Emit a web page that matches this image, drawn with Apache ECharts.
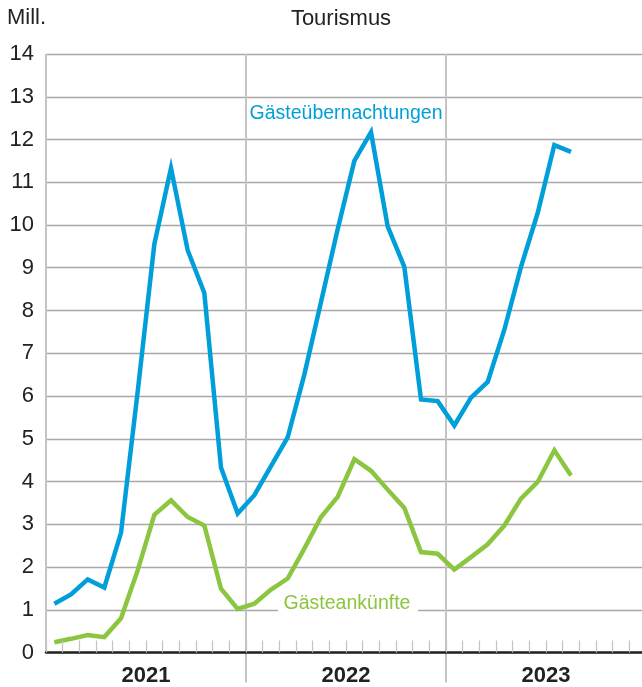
<!DOCTYPE html>
<html>
<head>
<meta charset="utf-8">
<script src="https://cdn.jsdelivr.net/npm/echarts@6/dist/echarts.min.js"></script>
<style>
html,body{margin:0;padding:0;background:#fff;overflow:hidden;width:642px;height:687px;}
#chart{width:700px;height:687px;}
</style>
</head>
<body>
<div id="chart"></div>
<script>
var months = ['2021-01','2021-02','2021-03','2021-04','2021-05','2021-06','2021-07','2021-08','2021-09','2021-10','2021-11','2021-12',
              '2022-01','2022-02','2022-03','2022-04','2022-05','2022-06','2022-07','2022-08','2022-09','2022-10','2022-11','2022-12',
              '2023-01','2023-02','2023-03','2023-04','2023-05','2023-06','2023-07','2023-08','2023-09','2023-10','2023-11','2023-12'];
var years = ['2021','2022','2023'];
var yTicks = [0,1,2,3,4,5,6,7,8,9,10,11,12,13,14];
var overnights = [1.14,1.36,1.71,1.52,2.80,6.10,9.55,11.33,9.41,8.41,4.33,3.25,
                  3.68,4.36,5.03,6.50,8.20,9.90,11.50,12.17,9.97,9.02,5.92,5.88,
                  5.31,5.96,6.33,7.55,9.02,10.28,11.87,11.71];
var arrivals = [0.24,0.32,0.41,0.36,0.80,1.92,3.22,3.56,3.17,2.97,1.49,1.02,
                1.14,1.47,1.73,2.43,3.17,3.64,4.52,4.25,3.81,3.38,2.35,2.31,
                1.94,2.23,2.53,2.97,3.60,3.99,4.73,4.14];

var FONT = '"Liberation Sans", Arial, sans-serif';
var BLUE = '#009fda';
var GREEN = '#8cc540';

var chart = echarts.init(document.getElementById('chart'), null, {renderer: 'canvas'});
chart.setOption({
  animation: false,
  backgroundColor: '#fff',
  grid: {left: 46, top: 54, width: 600, height: 598.5, containLabel: false},
  xAxis: [{
    type: 'category',
    data: months,
    boundaryGap: true,
    axisLine: {show: true, lineStyle: {color: '#222', width: 2.5}},
    axisTick: {show: true, inside: true, length: 12, interval: 0, lineStyle: {color: '#c4c4c4', width: 1.2}},
    axisLabel: {show: false},
    splitLine: {show: false},
    z: 5
  }, {
    type: 'category',
    data: years,
    position: 'bottom',
    boundaryGap: true,
    axisLine: {show: false},
    axisTick: {show: true, length: 30, interval: function (i) { return i > 0; }, lineStyle: {color: '#c4c4c4', width: 2}},
    axisLabel: {show: true, margin: 12, fontFamily: FONT, fontSize: 22, fontWeight: 'bold', color: '#222'},
    splitLine: {show: true, lineStyle: {color: '#c4c4c4', width: 2}}
  }],
  yAxis: {
    type: 'value',
    min: yTicks[0],
    max: yTicks[yTicks.length - 1],
    interval: 1,
    axisLine: {show: false},
    axisTick: {show: false},
    axisLabel: {margin: 12, fontFamily: FONT, fontSize: 22, color: '#222'},
    splitLine: {show: true, lineStyle: {color: '#a8a8a8', width: 1.3}}
  },
  series: [{
    name: 'Gästeankünfte',
    type: 'line',
    data: arrivals,
    xAxisIndex: 0,
    symbol: 'none',
    lineStyle: {color: GREEN, width: 4.5, join: 'miter'},
    z: 3
  }, {
    name: 'Gästeübernachtungen',
    type: 'line',
    data: overnights,
    xAxisIndex: 0,
    symbol: 'none',
    lineStyle: {color: BLUE, width: 4.5, join: 'miter'},
    z: 4
  }],
  graphic: [
    {type: 'text', left: 7, top: 7, style: {text: 'Mill.', font: '22px ' + FONT, fill: '#222'}, z: 10},
    {type: 'text', x: 341, y: 19, style: {text: 'Tourismus', font: '22px ' + FONT, fill: '#222', textAlign: 'center', textVerticalAlign: 'middle'}, z: 10},
    {type: 'text', x: 346, y: 114, style: {text: 'Gästeübernachtungen', font: '19.5px ' + FONT, fill: BLUE, textAlign: 'center', textVerticalAlign: 'middle'}, z: 10},
    {type: 'rect', shape: {x: 278, y: 596, width: 140, height: 20}, style: {fill: '#fff'}, z: 9},
    {type: 'text', x: 347, y: 604, style: {text: 'Gästeankünfte', font: '19.5px ' + FONT, fill: GREEN, textAlign: 'center', textVerticalAlign: 'middle'}, z: 10}
  ]
});
</script>
</body>
</html>
